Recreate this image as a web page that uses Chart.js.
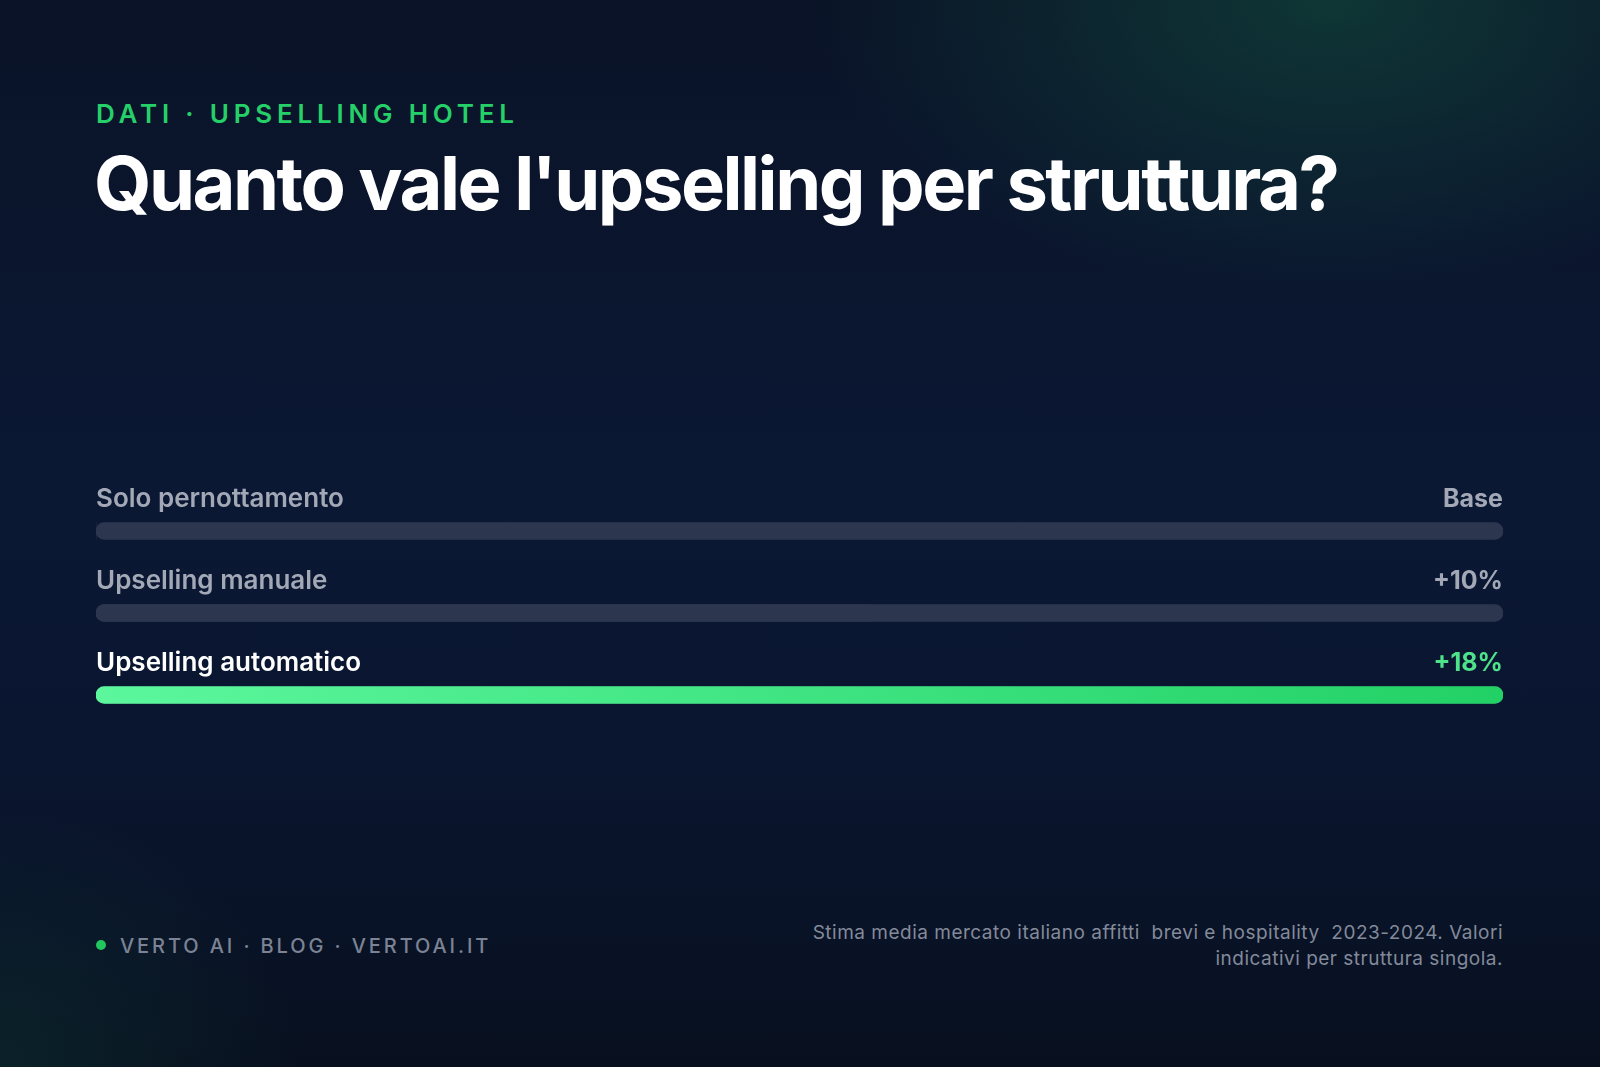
<!DOCTYPE html>
<html lang="it">
<head>
<meta charset="utf-8">
<script src="https://cdn.jsdelivr.net/npm/chart.js@4.4.1/dist/chart.umd.min.js"></script>
<style>
    html, body { margin: 0; padding: 0; }
    body {
        width: 1600px; height: 1067px; overflow: hidden; position: relative;
        font-family: Inter, "Noto Sans", sans-serif;
        background:
            radial-gradient(ellipse 520px 300px at 1330px 0px, rgba(24, 120, 80, 0.35), rgba(24, 120, 80, 0) 100%),
            radial-gradient(ellipse 300px 260px at 0px 1067px, rgba(24, 110, 80, 0.18), rgba(24, 110, 80, 0) 100%),
            linear-gradient(180deg, #0a1327 0%, #0b1834 45%, #0a1630 70%, #08101f 100%);
    }
    #kicker {
        position: absolute; left: 96px; top: 98px;
        color: #25d068; font-size: 26px; font-weight: 600; letter-spacing: 4.8px;
    }
    #title {
        position: absolute; left: 94px; top: 138px; margin: 0;
        color: #ffffff; font-size: 74px; font-weight: 650; letter-spacing: -2.5px; white-space: nowrap;
    }
    #chartBox { position: absolute; left: 96px; top: 460px; width: 1407px; height: 276px; }
    #brand {
        position: absolute; left: 96px; top: 934px;
        color: #7c8394; font-size: 20px; font-weight: 500; letter-spacing: 2.9px;
    }
    #brand .dot {
        display: inline-block; width: 10px; height: 10px; border-radius: 50%;
        background: #22c55e; margin-right: 14px; vertical-align: 3px;
    }
    #note {
        position: absolute; right: 97px; top: 920px; width: 720px; text-align: right;
        color: #838a9a; font-size: 19px; line-height: 26px; letter-spacing: 0.5px;
    }
</style>
</head>
<body>
<div id="kicker">DATI · UPSELLING HOTEL</div>
<h1 id="title">Quanto vale l'upselling per struttura?</h1>
<div id="chartBox"><canvas id="bars"></canvas></div>
<div id="brand"><span class="dot"></span>VERTO AI · BLOG · VERTOAI.IT</div>
<div id="note">Stima media mercato italiano affitti&nbsp; brevi e hospitality&nbsp; 2023-2024. Valori indicativi per struttura singola.</div>

<script>
    // rows of the chart
    var categories = ['Solo pernottamento', 'Upselling manuale', 'Upselling automatico'];
    var upliftValues = [0, 10, 18];
    var valueLabels = ['Base', '+10%', '+18%'];
    var highlightRow = 2;

    var trackColour = '#2c374f';
    var maxValue = Math.max.apply(null, upliftValues);
    var trackValues = categories.map(function() { return maxValue; });

    // labels sit above each bar: name on the left, value on the right
    var rowLabels = {
        id: 'rowLabels',
        afterDatasetsDraw: function(chart) {
            var ctx = chart.ctx;
            var meta = chart.getDatasetMeta(0);
            var area = chart.chartArea;
            ctx.save();
            ctx.textBaseline = 'alphabetic';
            meta.data.forEach(function(bar, i) {
                var y = bar.y - 24;
                var hi = (i == highlightRow);
                ctx.font = '600 26px Inter, "Noto Sans", sans-serif';
                ctx.textAlign = 'left';
                ctx.fillStyle = hi ? '#ffffff' : '#a2a8b6';
                ctx.fillText(categories[i], area.left, y);
                ctx.font = '700 25px Inter, "Noto Sans", sans-serif';
                ctx.textAlign = 'right';
                ctx.fillStyle = hi ? '#4ee38a' : '#a2a8b6';
                ctx.fillText(valueLabels[i], area.right, y);
            });
            ctx.restore();
        }
    };

    function fillColour(context) {
        if (context.dataIndex != highlightRow) {
            return trackColour;
        }
        var area = context.chart.chartArea;
        if (!area) {
            return '#3ee083';
        }
        var g = context.chart.ctx.createLinearGradient(area.left, 0, area.right, 0);
        g.addColorStop(0, '#5cf79d');
        g.addColorStop(1, '#22d166');
        return g;
    }

    new Chart(document.getElementById('bars'), {
        type: 'bar',
        data: {
            labels: categories,
            datasets: [
                {
                    label: 'Uplift',
                    data: upliftValues,
                    backgroundColor: fillColour,
                    barThickness: 17,
                    borderRadius: 9,
                    borderSkipped: false,
                    grouped: false,
                    order: 0
                },
                {
                    label: 'Track',
                    data: trackValues,
                    backgroundColor: trackColour,
                    barThickness: 17,
                    borderRadius: 9,
                    borderSkipped: false,
                    grouped: false,
                    order: 1
                }
            ]
        },
        options: {
            indexAxis: 'y',
            responsive: true,
            maintainAspectRatio: false,
            animation: false,
            layout: { padding: { top: 30, left: 0, right: 0, bottom: 0 } },
            scales: {
                x: { display: false, min: 0, max: maxValue },
                y: { display: false }
            },
            plugins: {
                legend: { display: false },
                tooltip: { enabled: false }
            }
        },
        plugins: [rowLabels]
    });
</script>
</body>
</html>
